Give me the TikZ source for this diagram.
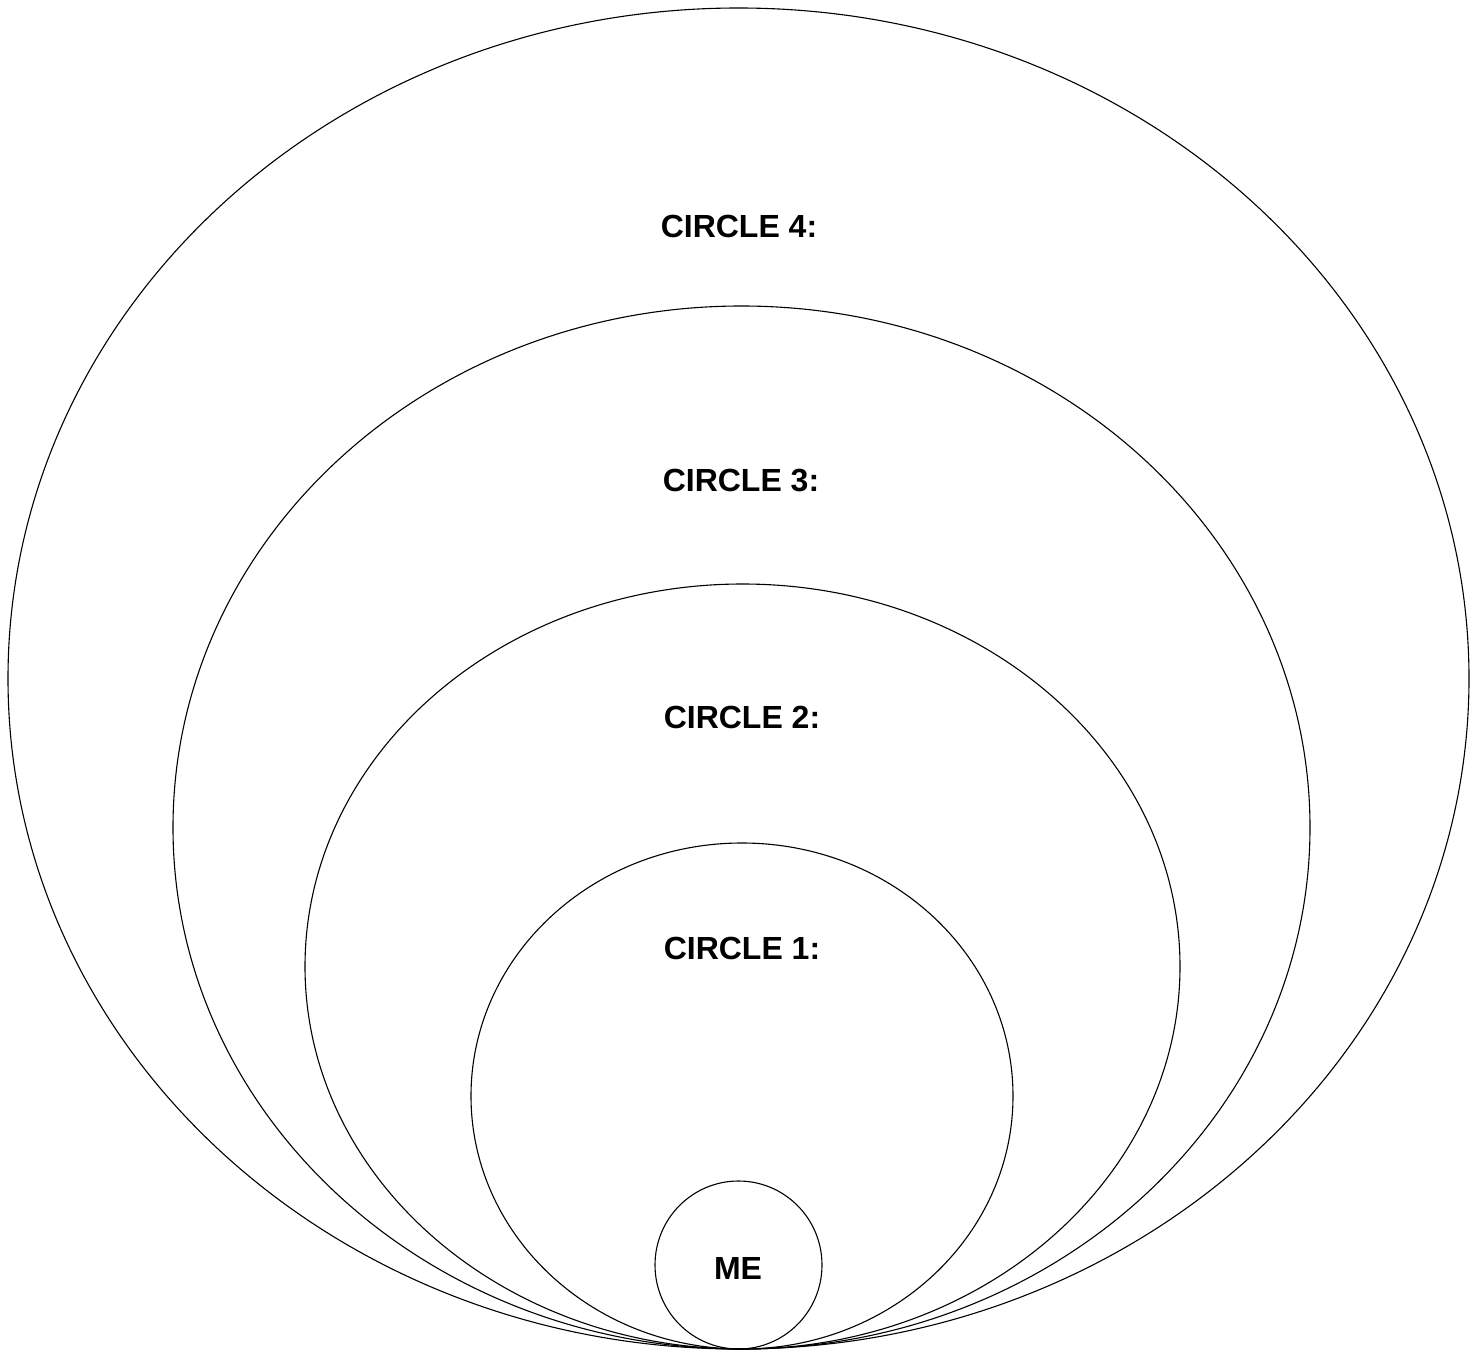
\documentclass[tikz,border=0pt]{standalone}
\usepackage{fontspec}
\setmainfont{Liberation Sans}
\begin{document}
\begin{tikzpicture}[x=1pt,y=-1pt,
  ring/.style={draw=black,line width=1.1pt},
  lbl/.style={font=\fontsize{32}{36}\selectfont\bfseries,inner sep=0pt}]
\useasboundingbox[fill=white] (0,0) rectangle (1481,1351);
\draw[ring] (738.5,678.5) ellipse [x radius=730.5, y radius=670.5];
\draw[ring] (741.5,827.5) ellipse [x radius=568.5, y radius=521.5];
\draw[ring] (742.5,966.5) ellipse [x radius=437.5, y radius=382.5];
\draw[ring] (742,1096) ellipse [x radius=271, y radius=253];
\draw[ring] (738.5,1265) ellipse [x radius=83.5, y radius=84];
\node[lbl] (c4) at (739,226) {CIRCLE 4:};
\node[lbl] (c3) at (741,481) {CIRCLE 3:};
\node[lbl] (c2) at (742,717) {CIRCLE 2:};
\node[lbl] (c1) at (742,948) {CIRCLE 1:};
\node[lbl] (me) at (738,1268) {ME};
\end{tikzpicture}
\end{document}
